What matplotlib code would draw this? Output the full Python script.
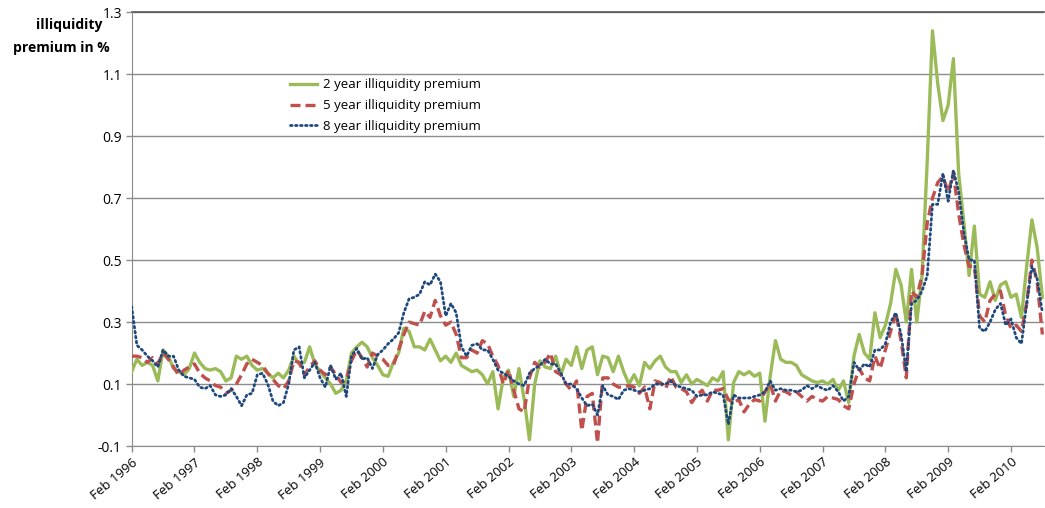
import matplotlib
matplotlib.use("Agg")
import matplotlib.pyplot as plt
import numpy as np

# monthly readings, Feb 1996 .. Aug 2010
start_year = 1996
tick_years = list(range(1996, 2011))

prem_2y = [
    0.14, 0.18, 0.16, 0.17, 0.16, 0.11, 0.21, 0.19, 0.15, 0.14, 0.13, 0.15,
    0.20, 0.17, 0.15, 0.145, 0.15, 0.14, 0.11, 0.12, 0.19, 0.18, 0.19, 0.16,
    0.145, 0.15, 0.135, 0.12, 0.135, 0.12, 0.145, 0.19, 0.165, 0.17, 0.22, 0.165,
    0.14, 0.12, 0.10, 0.07, 0.08, 0.11, 0.20, 0.22, 0.235, 0.22, 0.185, 0.16,
    0.13, 0.125, 0.17, 0.20, 0.28, 0.27, 0.22, 0.22, 0.21, 0.245, 0.21, 0.175,
    0.19, 0.17, 0.20, 0.16, 0.15, 0.14, 0.145, 0.13, 0.10, 0.14, 0.02, 0.12,
    0.145, 0.06, 0.15, 0.05, -0.08, 0.10, 0.175, 0.155, 0.15, 0.19, 0.13, 0.18,
    0.16, 0.22, 0.15, 0.21, 0.22, 0.13, 0.19, 0.185, 0.14, 0.19, 0.14, 0.10,
    0.13, 0.095, 0.17, 0.15, 0.175, 0.19, 0.155, 0.14, 0.14, 0.105, 0.13, 0.10,
    0.115, 0.105, 0.095, 0.12, 0.11, 0.14, -0.08, 0.105, 0.14, 0.13, 0.14, 0.125,
    0.135, -0.02, 0.125, 0.24, 0.18, 0.17, 0.17, 0.16, 0.13, 0.12, 0.11, 0.105,
    0.11, 0.10, 0.115, 0.08, 0.11, 0.04, 0.19, 0.26, 0.20, 0.18, 0.33, 0.25,
    0.29, 0.36, 0.47, 0.42, 0.30, 0.47, 0.30, 0.45, 0.82, 1.24, 1.07, 0.95,
    1.00, 1.15, 0.78, 0.62, 0.45, 0.61, 0.39, 0.38, 0.43, 0.37, 0.42, 0.43,
    0.38, 0.39, 0.315, 0.48, 0.63, 0.54, 0.38,
]
prem_5y = [
    0.19, 0.19, 0.185, 0.17, 0.185, 0.165, 0.20, 0.18, 0.155, 0.128, 0.145, 0.155,
    0.165, 0.135, 0.12, 0.11, 0.095, 0.09, 0.07, 0.08, 0.10, 0.13, 0.165, 0.18,
    0.17, 0.16, 0.135, 0.115, 0.095, 0.085, 0.11, 0.175, 0.17, 0.13, 0.155, 0.175,
    0.145, 0.13, 0.155, 0.13, 0.105, 0.115, 0.175, 0.21, 0.185, 0.155, 0.20, 0.19,
    0.18, 0.16, 0.16, 0.21, 0.26, 0.30, 0.295, 0.29, 0.335, 0.315, 0.37, 0.32,
    0.29, 0.30, 0.26, 0.185, 0.185, 0.21, 0.20, 0.24, 0.23, 0.19, 0.16, 0.10,
    0.145, 0.08, 0.02, 0.01, 0.12, 0.17, 0.155, 0.17, 0.20, 0.14, 0.13, 0.10,
    0.08, 0.11, -0.05, 0.06, 0.07, -0.09, 0.12, 0.12, 0.10, 0.09, 0.09, 0.095,
    0.09, 0.07, 0.09, 0.02, 0.11, 0.105, 0.085, 0.125, 0.09, 0.085, 0.075, 0.04,
    0.065, 0.08, 0.045, 0.08, 0.08, 0.085, 0.05, 0.04, 0.05, 0.01, 0.035, 0.05,
    0.045, 0.075, 0.10, 0.045, 0.08, 0.075, 0.065, 0.075, 0.06, 0.045, 0.06, 0.05,
    0.045, 0.06, 0.055, 0.05, 0.03, 0.02, 0.10, 0.15, 0.12, 0.11, 0.19, 0.15,
    0.21, 0.27, 0.33, 0.24, 0.12, 0.40, 0.38, 0.45, 0.62, 0.70, 0.75, 0.77,
    0.72, 0.78, 0.65, 0.55, 0.48, 0.48, 0.32, 0.30, 0.37, 0.39, 0.40, 0.32,
    0.28, 0.29, 0.27, 0.36, 0.50, 0.43, 0.26,
]
prem_8y = [
    0.35, 0.225, 0.21, 0.19, 0.175, 0.155, 0.21, 0.19, 0.19, 0.145, 0.125, 0.12,
    0.115, 0.09, 0.085, 0.095, 0.065, 0.06, 0.065, 0.085, 0.06, 0.03, 0.065, 0.07,
    0.13, 0.135, 0.10, 0.045, 0.03, 0.04, 0.10, 0.21, 0.22, 0.12, 0.145, 0.17,
    0.12, 0.09, 0.16, 0.115, 0.135, 0.06, 0.19, 0.215, 0.18, 0.185, 0.15, 0.195,
    0.21, 0.23, 0.245, 0.265, 0.33, 0.375, 0.38, 0.39, 0.43, 0.42, 0.455, 0.43,
    0.32, 0.36, 0.33, 0.22, 0.19, 0.225, 0.23, 0.21, 0.21, 0.18, 0.145, 0.135,
    0.125, 0.11, 0.10, 0.095, 0.135, 0.15, 0.16, 0.18, 0.165, 0.165, 0.135, 0.10,
    0.10, 0.085, 0.055, 0.03, 0.035, 0.0, 0.095, 0.065, 0.06, 0.05, 0.08, 0.085,
    0.08, 0.075, 0.08, 0.085, 0.10, 0.10, 0.10, 0.11, 0.095, 0.09, 0.085, 0.08,
    0.06, 0.065, 0.065, 0.075, 0.07, 0.065, -0.03, 0.065, 0.055, 0.055, 0.055, 0.06,
    0.065, 0.075, 0.11, 0.08, 0.085, 0.08, 0.08, 0.075, 0.08, 0.095, 0.085, 0.095,
    0.085, 0.08, 0.095, 0.075, 0.045, 0.06, 0.17, 0.145, 0.165, 0.155, 0.21, 0.21,
    0.23, 0.30, 0.33, 0.26, 0.14, 0.36, 0.37, 0.40, 0.45, 0.68, 0.68, 0.78,
    0.69, 0.79, 0.72, 0.59, 0.50, 0.50, 0.28, 0.27, 0.30, 0.34, 0.36, 0.29,
    0.31, 0.25, 0.23, 0.36, 0.48, 0.44, 0.33,
]

GREEN = "#9bbb59"
RED = "#c0504d"
BLUE = "#1f497d"
GRID = "#8c8c8c"

plt.rcParams["font.family"] = ["Open Sans", "DejaVu Sans"]

fig = plt.figure(figsize=(10.45, 5.08), dpi=100)
ax = fig.add_axes([0.126, 0.122, 0.873, 0.854])

months = np.arange(len(prem_2y))
ax.plot(months, prem_2y, color=GREEN, lw=2.4, solid_joinstyle="round",
        label="2 year illiquidity premium", zorder=3)
ax.plot(months, prem_5y, color=RED, lw=2.4, ls=(0, (3, 1.5)),
        label="5 year illiquidity premium", zorder=4)
ax.plot(months, prem_8y, color=BLUE, lw=2.0, ls=(0, (0.6, 1.2)),
        dash_capstyle="round", label="8 year illiquidity premium", zorder=5)

ax.set_ylim(-0.1, 1.3)
yt = np.arange(-0.1, 1.31, 0.2)
ax.set_yticks(yt)
ax.set_yticklabels([f"{v:.1f}" for v in yt], fontsize=10)
ax.yaxis.grid(True, color=GRID, lw=1.0)
ax.set_axisbelow(True)

ax.set_xlim(0, 174.3)
ax.set_xticks([12 * i for i in range(len(tick_years))])
ax.set_xticklabels([f"Feb {y}" for y in tick_years], rotation=40,
                   ha="right", rotation_mode="anchor", fontsize=9.5)

for side in ("top", "right"):
    ax.spines[side].set_visible(False)
for side in ("left", "bottom"):
    ax.spines[side].set_color(GRID)
ax.tick_params(axis="both", color=GRID, length=4, width=1, pad=3)
ax.axhline(1.3, color="#555555", lw=1.2, clip_on=False)

# two-line axis title, one text per line
fig.text(0.066, 1 - 25 / 508, "illiquidity", ha="center", va="center",
         fontsize=10, fontweight="bold")
fig.text(0.059, 1 - 48 / 508, "premium in %", ha="center", va="center",
         fontsize=10, fontweight="bold")

ax.legend(loc="upper left", bbox_to_anchor=(0.168, 0.86), frameon=False,
          fontsize=9.5, handlelength=2.0, handletextpad=0.5,
          labelspacing=0.6, borderaxespad=0)

fig.savefig("out.png", dpi=100)
